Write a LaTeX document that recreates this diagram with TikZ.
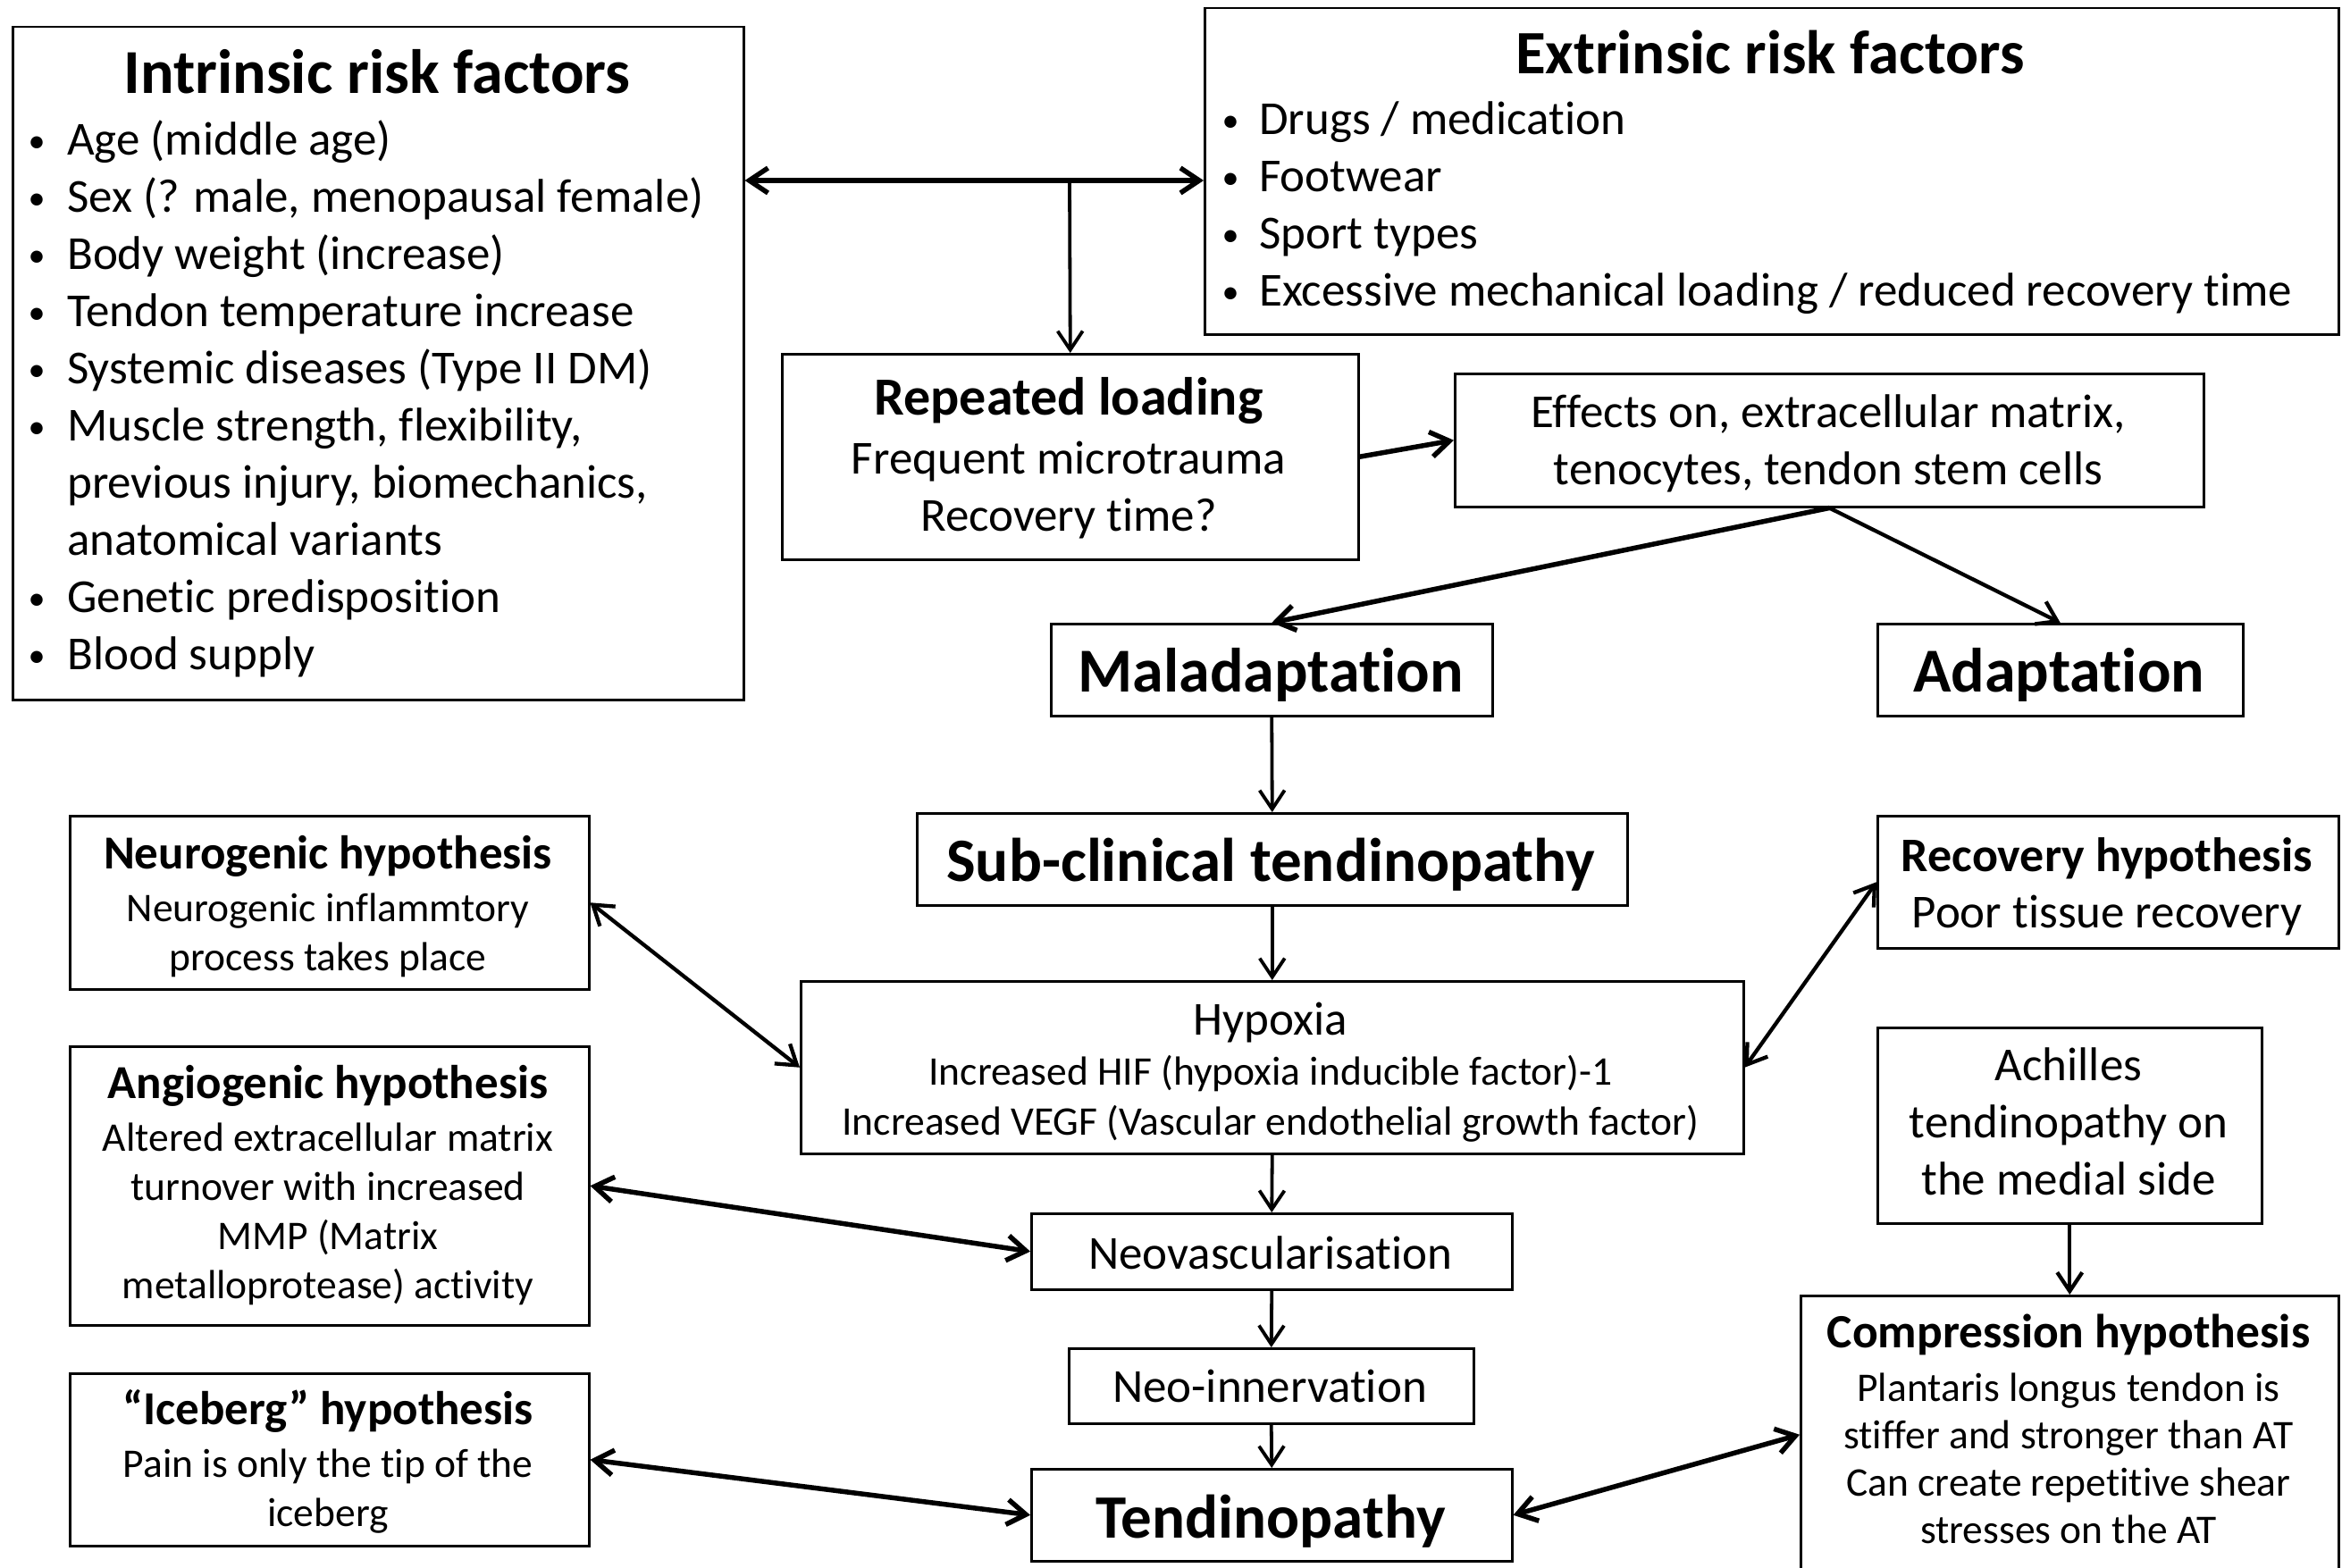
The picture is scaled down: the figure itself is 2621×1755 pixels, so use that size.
\documentclass[tikz,border=0pt]{standalone}
\usepackage{graphicx}
\usepackage{fontspec}
\setmainfont{Carlito}[RawFeature={-liga}]
\usetikzlibrary{arrows.meta}
\newcommand\fs[2]{\fontsize{#1pt}{#2pt}\selectfont}
\newcommand\ml[1]{\begin{tabular}[t]{@{}c@{}}#1\end{tabular}}
\newcommand\bl[1]{\begin{tabular}[t]{@{}l@{}l@{}}#1\end{tabular}}
\newcommand\bu[1]{\makebox[#1][l]{\makebox[0pt]{\raisebox{3pt}{\scalebox{0.72}{\textbullet}}}}}
\tikzset{
  box/.style={draw, line width=2.5pt, inner sep=0pt, anchor=north west},
  txt/.style={inner sep=0pt, anchor=base, yshift=-3pt},
  ltxt/.style={inner sep=0pt, anchor=base west, yshift=-3pt},
  arr/.style={-{Straight Barb[length=21pt,width=28pt]}, line width=3.8pt},
  darr/.style={{Straight Barb[length=21pt,width=28pt]}-{Straight Barb[length=21pt,width=28pt]}, line width=4.3pt},
  tarr/.style={-{Straight Barb[length=21pt,width=28pt]}, line width=5.5pt},
  tdarr/.style={{Straight Barb[length=21pt,width=28pt]}-{Straight Barb[length=21pt,width=28pt]}, line width=5.5pt},
}
\begin{document}
\begin{tikzpicture}[x=1pt,y=-1pt]
\useasboundingbox (0,0) rectangle (2621,1755);
\fill[white] (0,0) rectangle (2621,1755);

% boxes
\node[box, minimum width=818pt, minimum height=753pt] (intr) at (13,29) {};
\node[box, minimum width=1269pt, minimum height=365pt] (extr) at (1347,8) {};
\node[box, minimum width=645pt, minimum height=230pt] (rep) at (874,395) {};
\node[box, minimum width=838pt, minimum height=149pt] (eff) at (1627,417) {};
\node[box, minimum width=494pt, minimum height=103pt] (mal) at (1175,697) {};
\node[box, minimum width=409pt, minimum height=103pt] (ada) at (2100,697) {};
\node[box, minimum width=795pt, minimum height=103pt] (sub) at (1025,909) {};
\node[box, minimum width=1055pt, minimum height=193pt] (hyp) at (895,1097) {};
\node[box, minimum width=538pt, minimum height=85pt] (neo) at (1153,1357) {};
\node[box, minimum width=453pt, minimum height=84pt] (inn) at (1195,1508) {};
\node[box, minimum width=538pt, minimum height=103pt] (ten) at (1153,1643) {};
\node[box, minimum width=581pt, minimum height=194pt] (neu) at (77,912) {};
\node[box, minimum width=581pt, minimum height=312pt] (ang) at (77,1170) {};
\node[box, minimum width=581pt, minimum height=193pt] (ice) at (77,1536) {};
\node[box, minimum width=516pt, minimum height=148pt] (rec) at (2100,912) {};
\node[box, minimum width=430pt, minimum height=219pt] (ach) at (2100,1149) {};
\node[box, minimum width=602pt, minimum height=311pt] (com) at (2014,1449) {};

% texts
\node[txt, font=\fs{70}{78}\bfseries] (intrT) at (422,102) {Intrinsic risk factors};
\node[ltxt, font=\fs{53}{64}] (intrL) at (41,171) {\bl{%
\bu{34pt}&Age (middle age)\\
\bu{34pt}&Sex (? male, menopausal female)\\
\bu{34pt}&Body weight (increase)\\
\bu{34pt}&Tendon temperature increase\\
\bu{34pt}&Systemic diseases (Type II DM)\\
\bu{34pt}&Muscle strength, flexibility,\\
&previous injury, biomechanics,\\
&anatomical variants\\
\bu{34pt}&Genetic predisposition\\
\bu{34pt}&Blood supply}};

\node[txt, font=\fs{69}{78}\bfseries] (extrT) at (1981,80) {Extrinsic risk factors};
\node[ltxt, font=\fs{53}{64}] (extrL) at (1377,148) {\bl{%
\bu{32pt}&Drugs / medication\\
\bu{32pt}&Footwear\\
\bu{32pt}&Sport types\\
\bu{32pt}&Excessive mechanical loading / reduced recovery time}};

\node[txt, font=\fs{53}{64}] (repT) at (1196,461) {\ml{{\fs{60}{64}\bfseries Repeated loading}\\[2pt] Frequent microtrauma\\ Recovery time?}};
\node[txt, font=\fs{53}{64}] (effT) at (2046,475) {\ml{Effects on, extracellular matrix,\\ tenocytes, tendon stem cells}};
\node[txt, font=\fs{70}{78}\bfseries] (malT) at (1422,771) {Maladaptation};
\node[txt, font=\fs{70}{78}\bfseries] (adaT) at (2304,771) {Adaptation};
\node[txt, font=\fs{69}{78}\bfseries] (subT) at (1422,983) {Sub-clinical tendinopathy};
\node[txt, font=\fs{45.5}{56}] (hypT) at (1422,1155) {\ml{{\fs{53}{56}Hypoxia}\\ Increased HIF (hypoxia inducible factor)-1\\ Increased VEGF (Vascular endothelial growth factor)}};
\node[txt, font=\fs{53}{64}] (neoT) at (1422,1417) {Neovascularisation};
\node[txt, font=\fs{53}{64}] (innT) at (1421,1566) {Neo-innervation};
\node[txt, font=\fs{69}{78}\bfseries] (tenT) at (1422,1718) {Tendinopathy};

\node[txt, font=\fs{45.5}{55}] (neuT) at (367,969) {\ml{{\fs{53}{55}\bfseries Neurogenic hypothesis}\\[4pt] Neurogenic inflammtory\\ process takes place}};
\node[txt, font=\fs{45.5}{55}] (angT) at (367,1226) {\ml{{\fs{53}{55}\bfseries Angiogenic hypothesis}\\[4pt] Altered extracellular matrix\\ turnover with increased\\ MMP (Matrix\\ metalloprotease) activity}};
\node[txt, font=\fs{45.5}{55}] (iceT) at (367,1591) {\ml{{\fs{53}{55}\bfseries “Iceberg” hypothesis}\\[4pt] Pain is only the tip of the\\ iceberg}};
\node[txt, font=\fs{53}{63}] (recT) at (2358,972) {\ml{{\fs{54}{63}\bfseries Recovery hypothesis}\\ Poor tissue recovery}};
\node[txt, font=\fs{53}{64}] (achT) at (2315,1206) {\ml{Achilles\\ tendinopathy on\\ the medial side}};
\node[txt, font=\fs{45.5}{53}] (comT) at (2315,1505) {\ml{{\fs{53.5}{53}\bfseries Compression hypothesis}\\[7pt] Plantaris longus tendon is\\ stiffer and stronger than AT\\ Can create repetitive shear\\ stresses on the AT}};

% connectors
\coordinate (j) at (1197,202);
\draw[tdarr] (j -| intr.east) -- (j -| extr.west);
\draw[arr] (j) -- (rep.north);
\draw[tarr] (rep.east) -- (eff.west);
\draw[tarr] (eff.south) -- (mal.north);
\draw[arr, line width=4.3pt] (eff.south) -- (ada.north);
\draw[arr] (mal.south) -- (sub.north);
\draw[arr] (sub.south) -- (hyp.north);
\draw[arr] (hyp.south) -- (neo.north);
\draw[arr] (neo.south) -- (inn.north);
\draw[arr] (inn.south) -- (ten.north);
\draw[darr] (neu.east) -- (hyp.west);
\draw[tdarr] (ang.east) -- (neo.west);
\draw[tdarr] (ice.east) -- (ten.west);
\draw[darr] (rec.west) -- (hyp.east);
\draw[arr, line width=4.3pt] (ach.south) -- (com.north);
\draw[tdarr] (ten.east) -- (com.west);
\end{tikzpicture}
\end{document}
